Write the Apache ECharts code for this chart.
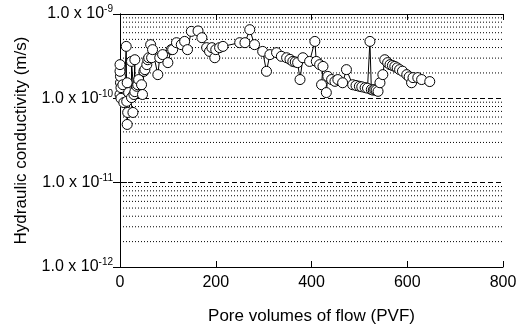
<!DOCTYPE html>
<html>
<head>
<meta charset="utf-8">
<script src="https://cdn.jsdelivr.net/npm/echarts@6/dist/echarts.min.js"></script>
<style>html,body{margin:0;padding:0;background:#fff}#c{width:521px;height:334px}</style>
</head>
<body>
<div id="c"></div>
<script>
// Pore volumes of flow (PVF)
var pvf = [0,1,1,0,0,2,2,6,8,13,14,15,16,27,15,18,24,24,29,31,31,35,37,39,45,47,50,52,56,58,60,64,66,68,79,83,89,100,107,110,118,128,135,141,149,163,171,181,187,192,198,200,208,215,250,261,271,281,298,306,313,327,337,348,355,361,366,371,376,382,396,407,410,417,424,421,431,434,442,449,455,465,473,486,493,500,505,512,517,522,525,529,532,535,539,543,549,553,559,564,569,574,579,584,590,599,604,609,612,622,630,647];
// Hydraulic conductivity (x 1e-10 m/s)
var kE10 = [1.11,1.53,1.82,2.09,2.51,1.34,1.0,1.45,0.89,4.13,0.92,0.49,0.68,0.68,1.53,1.17,1.02,2.74,1.11,2.87,1.2,1.39,1.45,1.67,1.45,1.11,2.09,2.19,2.51,2.87,3.03,4.33,3.03,3.78,1.91,3.03,3.30,2.65,3.78,3.78,4.57,4.33,4.73,3.78,6.22,6.3,5.24,3.99,3.60,3.99,3.03,3.78,3.99,4.13,4.57,4.57,6.52,4.33,3.60,2.09,3.30,3.48,3.15,3.03,2.9,2.74,2.7,2.65,1.67,3.03,2.74,4.73,2.74,2.51,2.39,1.45,1.17,1.82,1.67,1.59,1.67,1.53,2.19,1.45,1.42,1.39,1.37,1.34,1.32,4.73,1.27,1.25,1.27,1.25,1.21,1.53,1.91,2.87,2.65,2.51,2.45,2.39,2.3,2.19,2.1,1.91,1.8,1.53,1.76,1.76,1.67,1.58];
var xTicks = [0, 200, 400, 600, 800];
var minorGrid = [2e-12,3e-12,4e-12,5e-12,6e-12,7e-12,8e-12,9e-12,2e-11,3e-11,4e-11,5e-11,6e-11,7e-11,8e-11,9e-11,2e-10,3e-10,4e-10,5e-10,6e-10,7e-10,8e-10,9e-10];

var data = pvf.map(function(x, i){ return [x, kE10[i] * 1e-10]; });
var FONT = '"Liberation Sans", Arial, sans-serif';
var xMin = xTicks[0], xMax = xTicks[xTicks.length-1];

var gridSeries = minorGrid.map(function(v){
  return {
    type: 'line', data: [[xMin, v], [xMax, v]], xAxisIndex: 0, yAxisIndex: 0,
    z: 1, silent: true, showSymbol: false, symbol: 'none',
    lineStyle: {color: '#000', width: 1, type: [1, 2]},
    emphasis: {disabled: true}, tooltip: {show: false}
  };
});

var chart = echarts.init(document.getElementById('c'), null, {renderer: 'canvas'});
chart.setOption({
  animation: false,
  backgroundColor: '#fff',
  grid: {left: 120, right: 18, top: 14, bottom: 67, containLabel: false},
  xAxis: [{
    type: 'value', min: xMin, max: xMax, interval: 200,
    position: 'bottom',
    name: 'Pore volumes of flow (PVF)', nameLocation: 'middle', nameGap: 41,
    nameTextStyle: {fontFamily: FONT, fontSize: 17, color: '#000'},
    axisLine: {show: true, lineStyle: {color: '#000', width: 1}},
    axisTick: {show: true, inside: true, length: 6, lineStyle: {color: '#000'}},
    axisLabel: {fontFamily: FONT, fontSize: 16, color: '#000', margin: 8},
    splitLine: {show: false}
  }, {
    type: 'value', min: xMin, max: xMax, interval: 200,
    position: 'top',
    axisLine: {show: true, lineStyle: {color: '#000', width: 1}},
    axisTick: {show: true, inside: true, length: 6, lineStyle: {color: '#000'}},
    axisLabel: {show: false},
    splitLine: {show: false}
  }],
  yAxis: [{
    type: 'log', logBase: 10, min: 1e-12, max: 1e-9,
    position: 'left',
    name: 'Hydraulic conductivity (m/s)', nameLocation: 'middle', nameGap: 90,
    nameTextStyle: {fontFamily: FONT, fontSize: 17, color: '#000'},
    axisLine: {show: true, lineStyle: {color: '#000', width: 1}},
    axisTick: {show: true, inside: true, length: 7, lineStyle: {color: '#000'}},
    axisLabel: {
      margin: 7,
      formatter: function(v){
        var e = Math.round(Math.log10(v));
        return '{b|1.0 x 10}{s|' + e + '}';
      },
      rich: {
        b: {fontFamily: FONT, fontSize: 16, color: '#000'},
        s: {fontFamily: FONT, fontSize: 10, color: '#000', padding: [0, 0, 9, 0]}
      }
    },
    splitLine: {show: true, lineStyle: {color: '#000', width: 1, type: [5, 3]}}
  }, {
    type: 'log', logBase: 10, min: 1e-12, max: 1e-9,
    position: 'right',
    axisLine: {show: true, lineStyle: {color: '#000', width: 1}},
    axisTick: {show: true, inside: true, length: 7, lineStyle: {color: '#000'}},
    axisLabel: {show: false},
    splitLine: {show: false}
  }],
  series: gridSeries.concat([{
    type: 'line', data: data, xAxisIndex: 0, yAxisIndex: 0, z: 3,
    symbol: 'circle', symbolSize: 10, showAllSymbol: true,
    lineStyle: {color: '#000', width: 1},
    itemStyle: {color: '#fff', borderColor: '#000', borderWidth: 1}
  }])
});
</script>
</body>
</html>
